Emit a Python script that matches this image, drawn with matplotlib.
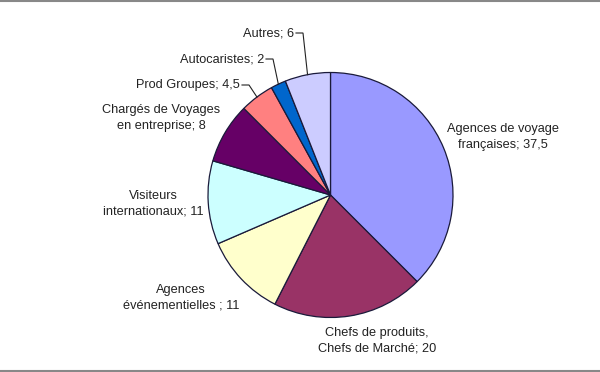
import matplotlib
matplotlib.use("Agg")
import matplotlib.pyplot as plt
from matplotlib.lines import Line2D
import numpy as np

categories = [
    "Agences de voyage\nfrançaises; 37,5",
    "Chefs de produits,\nChefs de Marché; 20",
    "Agences\névénementielles ; 11",
    "Visiteurs\ninternationaux; 11",
    "Chargés de Voyages\nen entreprise; 8",
    "Prod Groupes; 4,5",
    "Autocaristes; 2",
    "Autres; 6",
]
values = [37.5, 20, 11, 11, 8, 4.5, 2, 6]
colors = ["#9999FF", "#993366", "#FFFFCC", "#CCFFFF", "#660066", "#FF8080", "#0066CC", "#CCCCFF"]

plt.rcParams['font.family'] = ['Liberation Sans', 'DejaVu Sans']

W, H = 600, 372
fig = plt.figure(figsize=(6, 3.72), dpi=100)
fig.patch.set_facecolor("white")

cx, cy, r = 330.5, 195, 122.5
ax = fig.add_axes([(cx - r) / W, (H - cy - r) / H, 2 * r / W, 2 * r / H])
wedges, _ = ax.pie(values, colors=colors, startangle=90, counterclock=False,
                   radius=1, wedgeprops=dict(edgecolor="#1a1a3a", linewidth=0.9))
ax.set_xlim(-1, 1)
ax.set_ylim(-1, 1)
ax.set_aspect("equal")
ax.axis("off")

def px(x, y):
    return ((x - cx) / r, (cy - y) / r)

# label positions (pixel coords), alignment, leader flag
label_pos = [
    (503, 137, "center", False),
    (377, 341, "center", False),
    (181, 298, "center", False),
    (153, 204, "center", False),
    (161, 118, "center", False),
    (240, 85, "right", True),
    (264, 59, "right", True),
    (294, 33, "right", True),
]

tc = "#222222"
for w, lab, (x, y, ha, lead) in zip(wedges, categories, label_pos):
    lx, ly = px(x, y)
    ax.text(lx, ly, lab, ha=ha, va="center", fontsize=9.2, color=tc,
            linespacing=1.35, clip_on=False)
    if lead:
        ang = np.deg2rad((w.theta1 + w.theta2) / 2)
        ex, ey = np.cos(ang), np.sin(ang)
        x1, _ = px(x + 2, y)
        x2, _ = px(x + 9, y)
        ax.plot([x1, x2, ex], [ly, ly, ey], color="#222222", lw=0.8,
                clip_on=False, solid_joinstyle="miter")

fig.add_artist(Line2D([0, 1], [1 - 1 / H, 1 - 1 / H], transform=fig.transFigure,
                      color="#888888", lw=1.5))
fig.add_artist(Line2D([0, 1], [1.5 / H, 1.5 / H], transform=fig.transFigure,
                      color="#888888", lw=1.5))

fig.savefig("out.png", dpi=100, facecolor="white")
